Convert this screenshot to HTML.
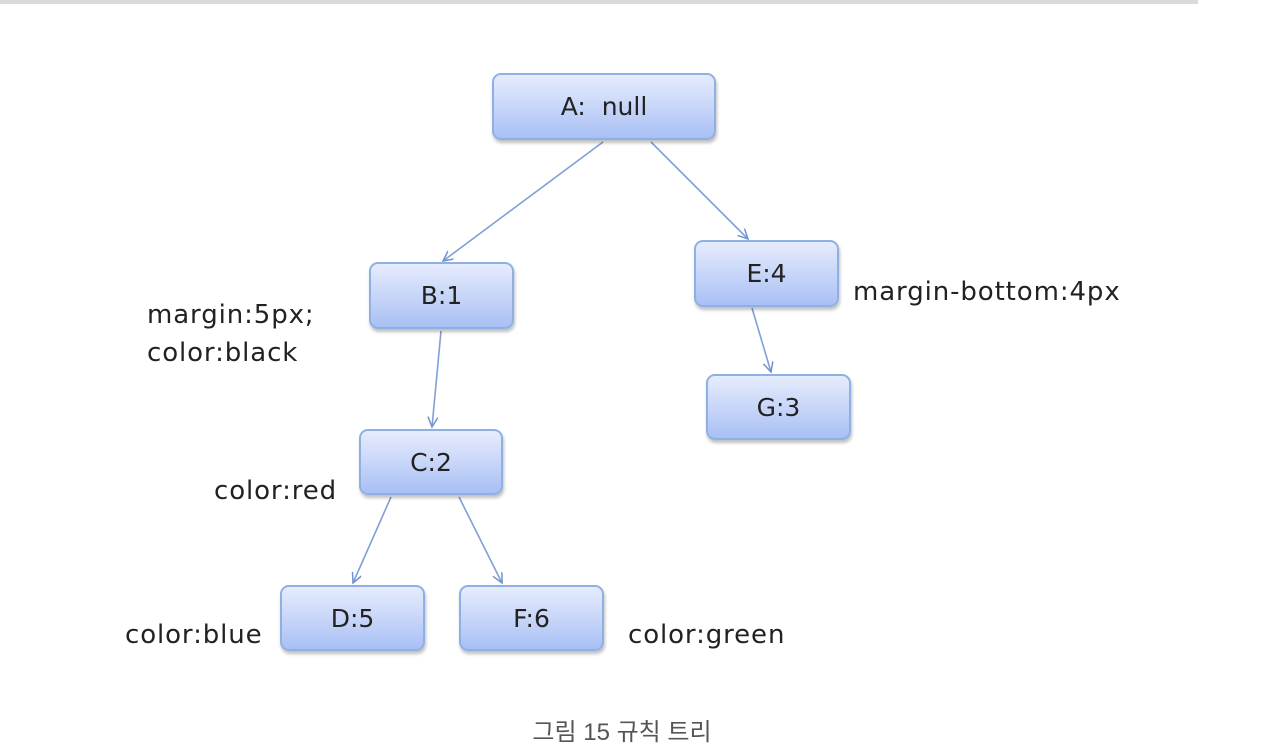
<!DOCTYPE html>
<html><head><meta charset="utf-8"><style>
body{margin:0;width:1262px;height:742px;background:#fff;overflow:hidden;position:relative;font-family:"DejaVu Sans",sans-serif}
.bar{position:absolute;left:0;top:0;width:1198px;height:4px;background:#dadada}
.n{position:absolute;box-sizing:border-box;border:2px solid #8fb0e3;border-radius:9px;background:linear-gradient(#e6ecfc,#a9c0f5);box-shadow:1px 3px 3px rgba(0,0,0,.25);display:flex;align-items:center;justify-content:center;font-size:25px;color:#222}
.t{position:absolute;font-size:26px;letter-spacing:0.9px;color:#222;line-height:38px;white-space:nowrap}
.cap{position:absolute;left:0;width:1244px;top:712px;text-align:center;font-size:24px;color:#555;font-family:"Liberation Sans","Noto Sans CJK KR",sans-serif}
</style></head><body>
<div class="bar"></div>
<svg width="1262" height="742" style="position:absolute;left:0;top:0">
<defs><marker id="a" markerWidth="12" markerHeight="12" refX="10" refY="5" orient="auto" markerUnits="userSpaceOnUse"><path d="M0,0 L10,5 L0,10" fill="none" stroke="#6f93cf" stroke-width="1.5"/></marker></defs>
<g stroke="#7fa0d6" stroke-width="1.6" marker-end="url(#a)">
<line x1="603" y1="142" x2="443" y2="261"/>
<line x1="651" y1="142" x2="748" y2="239"/>
<line x1="441" y1="331" x2="432" y2="427"/>
<line x1="752" y1="308" x2="771" y2="372"/>
<line x1="391" y1="497" x2="353" y2="583"/>
<line x1="459" y1="497" x2="502" y2="583"/>
</g></svg>
<div class="n" style="left:492px;top:73px;width:224px;height:67px">A:&nbsp; null</div>
<div class="n" style="left:369px;top:262px;width:145px;height:67px">B:1</div>
<div class="n" style="left:694px;top:240px;width:145px;height:67px">E:4</div>
<div class="n" style="left:706px;top:374px;width:145px;height:66px">G:3</div>
<div class="n" style="left:359px;top:429px;width:144px;height:66px">C:2</div>
<div class="n" style="left:280px;top:585px;width:145px;height:66px">D:5</div>
<div class="n" style="left:459px;top:585px;width:145px;height:66px">F:6</div>
<div class="t" style="left:147px;top:296px">margin:5px;<br>color:black</div>
<div class="t" style="left:853px;top:273px">margin-bottom:4px</div>
<div class="t" style="left:214px;top:472px">color:red</div>
<div class="t" style="left:125px;top:616px">color:blue</div>
<div class="t" style="left:628px;top:616px">color:green</div>
<div class="cap">그림 15 규칙 트리</div>
</body></html>
